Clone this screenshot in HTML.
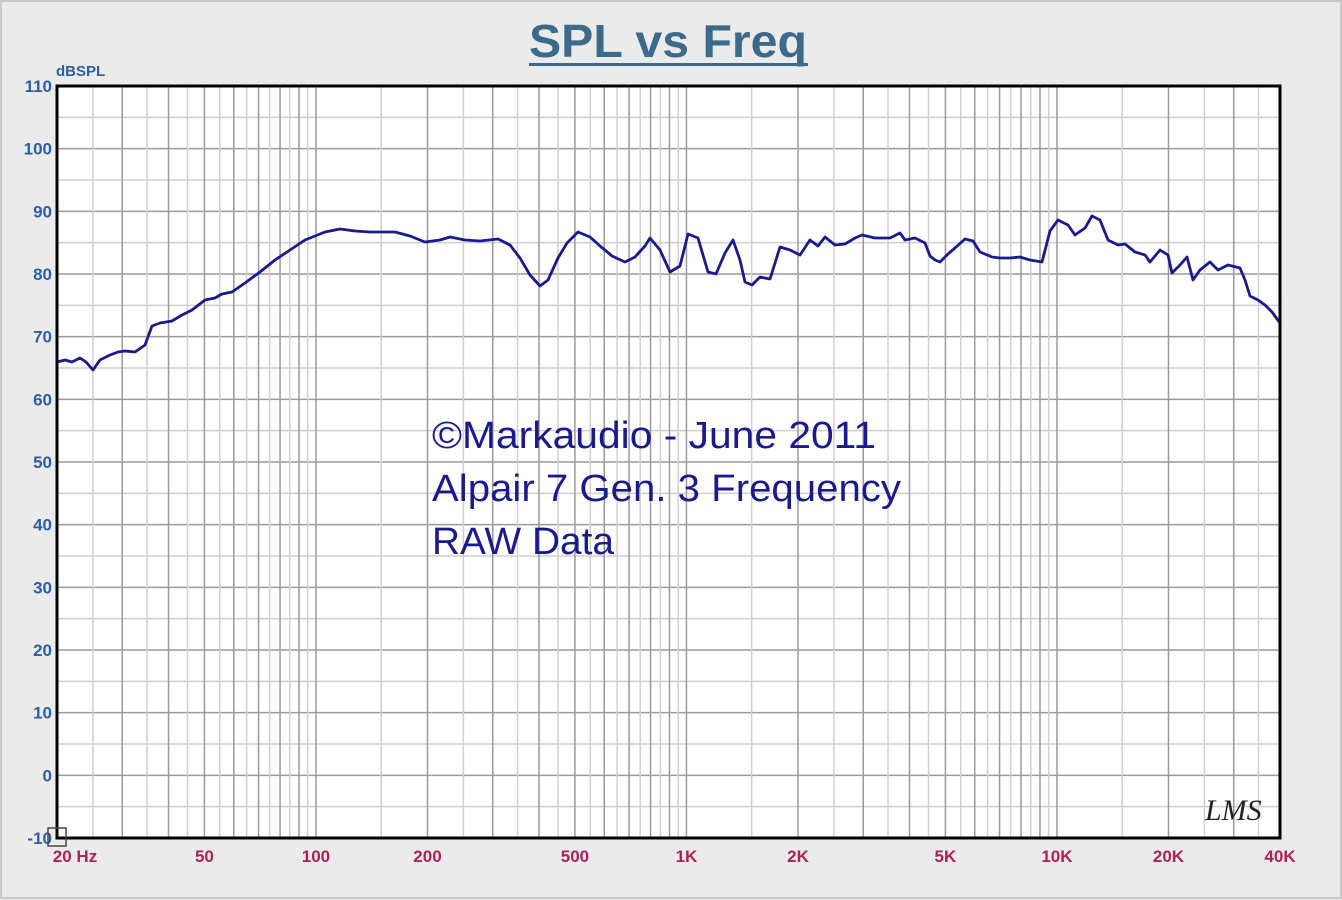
<!DOCTYPE html>
<html><head><meta charset="utf-8"><style>
html,body{margin:0;padding:0;background:#ebebeb;}
svg{display:block}
</style></head><body>
<svg id="s" width="1342" height="900" xmlns="http://www.w3.org/2000/svg" font-family="Liberation Sans, Arial, sans-serif">
<rect x="0" y="0" width="1342" height="900" fill="#ebebeb"/>
<rect x="1" y="1" width="1340" height="897" fill="none" stroke="#c8c8c8" stroke-width="2"/>
<rect x="57" y="86" width="1223" height="752" fill="#ffffff"/>
<g id="grid"></g>
<text x="668" y="57" text-anchor="middle" font-size="46" font-weight="bold" fill="#3b6a8a" textLength="278" lengthAdjust="spacingAndGlyphs">SPL vs Freq</text>
<rect x="529" y="63" width="279" height="3" fill="#3b6a8a"/>
<text x="56" y="76" font-size="15" font-weight="bold" fill="#2a5fa8">dBSPL</text>
<g id="yl" font-size="17" font-weight="bold" fill="#2a5fa8" text-anchor="end"></g>
<g id="xl" font-size="17" font-weight="bold" fill="#b0205a" text-anchor="middle"></g>
<g font-size="38" fill="#1a1a8c">
<text x="432" y="448" textLength="444" lengthAdjust="spacingAndGlyphs">©Markaudio - June 2011</text>
<text x="432" y="501" textLength="469" lengthAdjust="spacingAndGlyphs">Alpair 7 Gen. 3 Frequency</text>
<text x="432" y="554" textLength="182" lengthAdjust="spacingAndGlyphs">RAW Data</text>
</g>
<polyline fill="none" stroke="#1a1a8c" stroke-width="2.8" stroke-linejoin="round" points="57,362 65,360 72,362 80,358 86,362 93,370 100,360 110,355 118,352 125,351 135,352 145,345 152,326 160,323 172,321 182,315 192,310 205,300 215,298 222,294 232,292 245,283 260,272 275,260 290,250 305,240 315,236 325,232 340,229 355,231 370,232 395,232 410,236 425,242 440,240 450,237 465,240 480,241 498,239 510,245 520,258 530,275 540,286 548,280 558,258 567,243 578,232 590,237 600,246 612,256 625,262 635,257 645,246 650,238 660,250 670,272 680,266 688,234 698,238 708,272 716,274 725,253 733,240 740,260 745,282 752,285 760,277 770,279 780,247 790,250 800,255 810,240 818,246 825,237 835,245 845,244 855,238 862,235 875,238 890,238 900,233 905,240 915,238 925,243 930,256 935,260 940,262 948,254 955,248 965,239 973,241 980,252 992,257 1000,258 1010,258 1020,257 1030,260 1042,262 1050,231 1058,220 1068,225 1075,235 1085,228 1092,216 1100,220 1108,240 1118,245 1125,244 1135,252 1145,255 1150,262 1160,250 1168,255 1172,273 1180,265 1187,257 1193,280 1200,270 1210,262 1218,270 1228,265 1240,268 1245,280 1250,296 1258,300 1265,305 1272,312 1280,323"/>
<rect x="57" y="86" width="1223" height="752" fill="none" stroke="#000" stroke-width="3"/>
<text x="1205" y="820" font-size="30" font-style="italic" fill="#222" font-family="Liberation Serif, serif">LMS</text>
<rect x="48" y="828" width="18" height="18" fill="none" stroke="#444" stroke-width="1.5"/>
</svg>
<script>
var NS="http://www.w3.org/2000/svg";
function el(p,t,a,txt){var e=document.createElementNS(NS,t);for(var k in a)e.setAttribute(k,a[k]);if(txt!=null)e.textContent=txt;document.getElementById(p).appendChild(e);}
var L=57,R=1280,T=86,B=838,ppd=(R-L)/Math.log10(2000);
function fx(f){return L+ppd*Math.log10(f/20);}
function fy(d){return T+(110-d)*(B-T)/120;}
for(var d=-10;d<=110;d+=5){var y=fy(d);el("grid","line",{x1:L,x2:R,y1:y,y2:y,stroke:d%10==0?"#9a9a9a":"#cfcfcf","stroke-width":1.5});}
for(var dec=10;dec<=10000;dec*=10){for(var m=1;m<10;m+=0.5){var f=m*dec;if(f<=20||f>=40000)continue;var x=fx(f);var major=(m%1==0);el("grid","line",{x1:x,x2:x,y1:T,y2:B,stroke:major?"#9a9a9a":"#d0d0d0","stroke-width":1.5});}}
for(var d=-10;d<=110;d+=10){el("yl","text",{x:52,y:fy(d)+6},String(d));}
var xs=[[20,"20  Hz"],[50,"50"],[100,"100"],[200,"200"],[500,"500"],[1000,"1K"],[2000,"2K"],[5000,"5K"],[10000,"10K"],[20000,"20K"],[40000,"40K"]];
xs.forEach(function(p){var x=fx(p[0]);if(p[0]==20)x=75;if(p[0]==40000)x=1280;el("xl","text",{x:x,y:862},p[1]);});
</script>
</body></html>
